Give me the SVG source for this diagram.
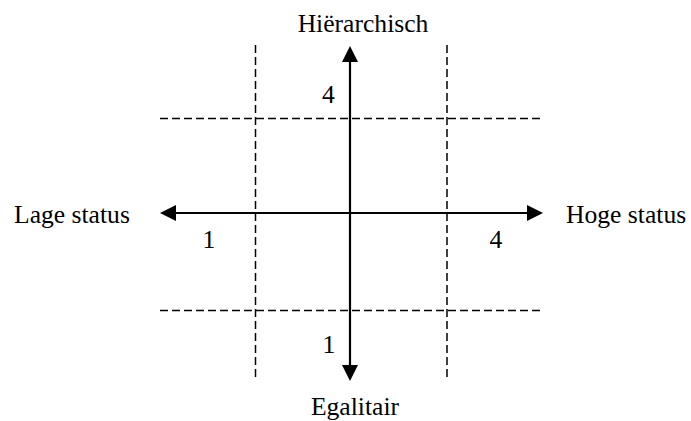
<svg xmlns="http://www.w3.org/2000/svg" width="691" height="421" viewBox="0 0 691 421">
<style>
.dash{stroke:#000;stroke-width:1.5;stroke-dasharray:8 4;fill:none}
.axis{stroke:#000;stroke-width:2.2;fill:none}
.head{fill:#000}
text{font-family:"Liberation Serif","Times New Roman",serif;font-size:25.6px;fill:#000}
</style>
<rect width="691" height="421" fill="#fff"/>
<g id="grid">
<line class="dash" x1="160" y1="118.5" x2="543" y2="118.5"/>
<line class="dash" x1="160" y1="310.5" x2="543" y2="310.5"/>
<line class="dash" x1="255.5" y1="45" x2="255.5" y2="381"/>
<line class="dash" x1="447" y1="45" x2="447" y2="381"/>
</g>
<g id="connectors">
<line class="axis" x1="350" y1="60" x2="350" y2="367"/>
<polygon class="head" points="350,46 342,62 358,62"/>
<polygon class="head" points="350,381 342,365 358,365"/>
<line class="axis" x1="174" y1="213" x2="529" y2="213"/>
<polygon class="head" points="160,213 176,205 176,221"/>
<polygon class="head" points="543,213 527,205 527,221"/>
</g>
<g id="top"><text x="363" y="32" text-anchor="middle">Hiërarchisch</text></g>
<g id="bottom"><text x="355" y="414.5" text-anchor="middle">Egalitair</text></g>
<g id="left"><text x="14" y="223">Lage status</text></g>
<g id="right"><text x="566" y="223">Hoge status</text></g>
<g id="labels">
<text x="328.5" y="103" text-anchor="middle">4</text>
<text x="329" y="353" text-anchor="middle">1</text>
<text x="209" y="248" text-anchor="middle">1</text>
<text x="496" y="248" text-anchor="middle">4</text>
</g>
</svg>
